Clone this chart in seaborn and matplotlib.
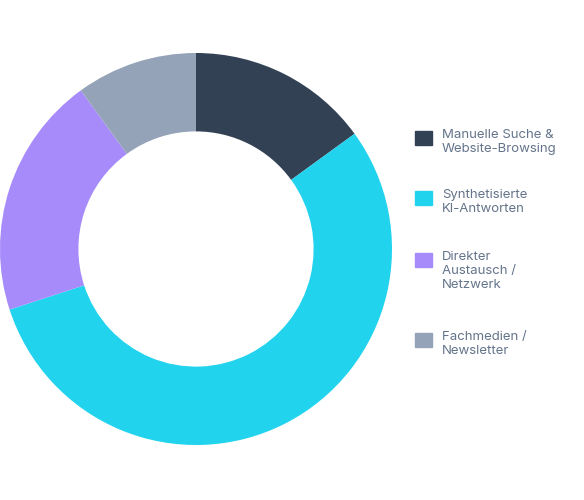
import matplotlib
matplotlib.use("Agg")
import matplotlib.pyplot as plt
from matplotlib.patches import Rectangle
import seaborn as sns

labels = ["Manuelle Suche &\nWebsite-Browsing", "Synthetisierte\nKI-Antworten",
          "Direkter\nAustausch /\nNetzwerk", "Fachmedien /\nNewsletter"]
values = [15, 55, 20, 10]
colors = ["#334155", "#22d3ee", "#a78bfa", "#94a3b8"]

sns.set_theme(style="white")
plt.rcParams['font.family'] = ['Inter', 'DejaVu Sans']

W, H = 584, 500
fig = plt.figure(figsize=(5.84, 5.0), dpi=100)
ax = fig.add_axes([0.0, (251 - 196) / H, 392 / W, 392 / H])
wedges, _ = ax.pie(values, colors=sns.color_palette(colors), startangle=90, counterclock=False,
                   radius=1.0, wedgeprops=dict(width=0.4, edgecolor="none"))
ax.set_xlim(-1, 1)
ax.set_ylim(-1, 1)
ax.set_aspect("equal")
ax.axis("off")

tops = [131, 191, 253, 333]
for c, lab, top in zip(colors, labels, tops):
    fig.patches.append(Rectangle((415 / W, 1 - (top + 14) / H), 17 / W, 14 / H,
                                 transform=fig.transFigure, color=c))
    fig.text(442 / W, 1 - (top - 2) / H, lab, ha="left", va="top", fontsize=9.5,
             color="#64748b", linespacing=1.25)
fig.savefig("out.png", dpi=100)
